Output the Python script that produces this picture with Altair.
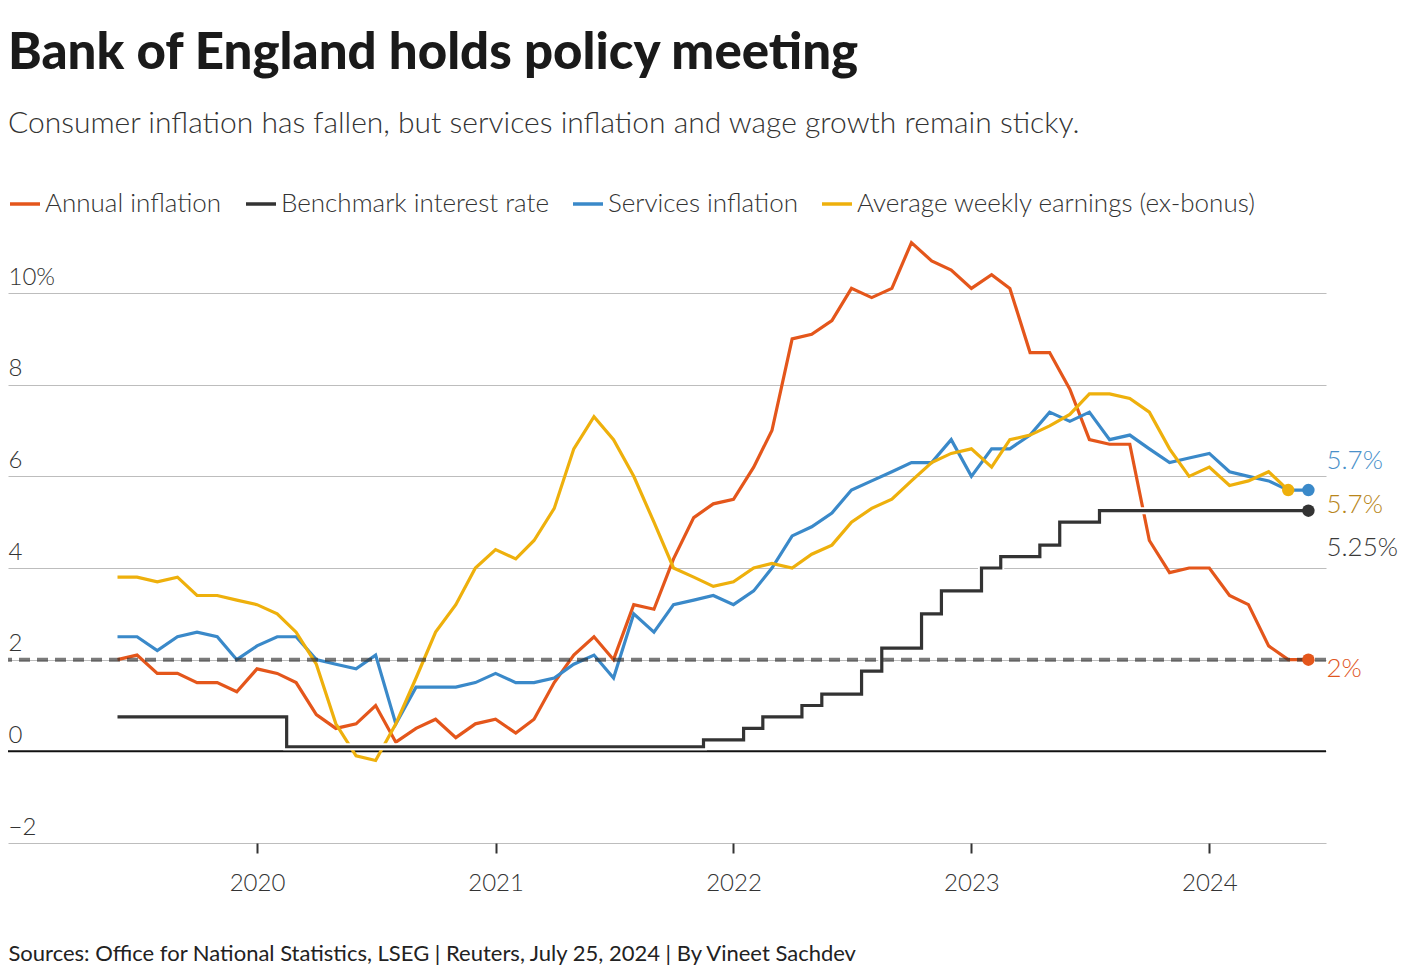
import altair as alt
import pandas as pd

FONT = "Lato"

# Monthly observations, June 2019 - June 2024
all_months = [f"{y}-{m:02d}-01" for y in range(2019, 2025) for m in range(1, 13)]
months = all_months[5:66]

annual_inflation = [2.0, 2.1, 1.7, 1.7, 1.5, 1.5, 1.3,
                    1.8, 1.7, 1.5, 0.8, 0.5, 0.6, 1.0, 0.2, 0.5, 0.7, 0.3, 0.6,
                    0.7, 0.4, 0.7, 1.5, 2.1, 2.5, 2.0, 3.2, 3.1, 4.2, 5.1, 5.4,
                    5.5, 6.2, 7.0, 9.0, 9.1, 9.4, 10.1, 9.9, 10.1, 11.1, 10.7, 10.5,
                    10.1, 10.4, 10.1, 8.7, 8.7, 7.9, 6.8, 6.7, 6.7, 4.6, 3.9, 4.0,
                    4.0, 3.4, 3.2, 2.3, 2.0, 2.0]

bank_rate = [0.75, 0.75, 0.75, 0.75, 0.75, 0.75, 0.75,
             0.75, 0.75, 0.1, 0.1, 0.1, 0.1, 0.1, 0.1, 0.1, 0.1, 0.1, 0.1,
             0.1, 0.1, 0.1, 0.1, 0.1, 0.1, 0.1, 0.1, 0.1, 0.1, 0.1, 0.25,
             0.25, 0.5, 0.75, 0.75, 1.0, 1.25, 1.25, 1.75, 2.25, 2.25, 3.0, 3.5,
             3.5, 4.0, 4.25, 4.25, 4.5, 5.0, 5.0, 5.25, 5.25, 5.25, 5.25, 5.25,
             5.25, 5.25, 5.25, 5.25, 5.25, 5.25]

services_inflation = [2.5, 2.5, 2.2, 2.5, 2.6, 2.5, 2.0,
                      2.3, 2.5, 2.5, 2.0, 1.9, 1.8, 2.1, 0.6, 1.4, 1.4, 1.4, 1.5,
                      1.7, 1.5, 1.5, 1.6, 1.9, 2.1, 1.6, 3.0, 2.6, 3.2, 3.3, 3.4,
                      3.2, 3.5, 4.0, 4.7, 4.9, 5.2, 5.7, 5.9, 6.1, 6.3, 6.3, 6.8,
                      6.0, 6.6, 6.6, 6.9, 7.4, 7.2, 7.4, 6.8, 6.9, 6.6, 6.3, 6.4,
                      6.5, 6.1, 6.0, 5.9, 5.7, 5.7]

# ends May 2024
weekly_earnings = [3.8, 3.8, 3.7, 3.8, 3.4, 3.4, 3.3,
                   3.2, 3.0, 2.6, 1.9, 0.6, -0.1, -0.2, 0.6, 1.6, 2.6, 3.2, 4.0,
                   4.4, 4.2, 4.6, 5.3, 6.6, 7.3, 6.8, 6.0, 5.0, 4.0, 3.8, 3.6,
                   3.7, 4.0, 4.1, 4.0, 4.3, 4.5, 5.0, 5.3, 5.5, 5.9, 6.3, 6.5,
                   6.6, 6.2, 6.8, 6.9, 7.1, 7.35, 7.8, 7.8, 7.7, 7.4, 6.6, 6.0,
                   6.2, 5.8, 5.9, 6.1, 5.7]

series_names = ["Annual inflation", "Benchmark interest rate",
                "Services inflation", "Average weekly earnings (ex-bonus)"]
series_colors = ["#e4561b", "#333333", "#3a89c9", "#eeb00c"]

end_labels = ["2%", "5.25%", "5.7%", "5.7%"]
end_label_colors = ["#e0561e", "#3a3a3a", "#4a90c9", "#b8861b"]
end_label_dy = [17, 45, -21, 23]

source_text = "Sources: Office for National Statistics, LSEG | Reuters, July 25, 2024 | By Vineet Sachdev"

rows = []
for name, vals in zip(series_names, [annual_inflation, bank_rate, services_inflation, weekly_earnings]):
    for d, v in zip(months, vals):
        rows.append({"date": d, "value": v, "series": name})
df = pd.DataFrame(rows)

last = df.groupby("series", as_index=False).tail(1).copy()
lab = last.copy()
lab["date"] = months[-1]
lab["label"] = lab["series"].map(dict(zip(series_names, end_labels)))

x_enc = alt.X(
    "date:T",
    title=source_text,
    scale=alt.Scale(type="utc", domain=[alt.DateTime(year=2018, month=12, date=15, utc=True),
                                        alt.DateTime(year=2024, month=6, date=28, utc=True)]),
    axis=alt.Axis(
        values=[alt.DateTime(year=y, month=1, date=1, utc=True) for y in range(2020, 2025)],
        format="%Y", grid=False, domain=False, ticks=True, tickSize=10, tickWidth=2,
        tickColor="#333333", labelFont=FONT, labelFontSize=24, labelFontWeight=300,
        labelColor="#333333", labelPadding=18, labelFlush=False,
        titleFont=FONT, titleFontSize=22, titleFontWeight="normal", titleColor="#222222",
        titleAnchor="start", titleAlign="left", titleX=0, titleY=117, titleBaseline="alphabetic",
    ),
)
y_enc = alt.Y(
    "value:Q",
    title=None,
    scale=alt.Scale(domain=[-2, 11.2], nice=False, zero=False),
    axis=alt.Axis(
        values=[-2, 0, 2, 4, 6, 8, 10],
        labelExpr="datum.value == 10 ? '10%' : datum.label",
        grid=True, gridColor="#bdbdbd", gridWidth=1, domain=False, ticks=False, tickSize=0,
        labelAlign="left", labelBaseline="alphabetic", labelOffset=-9, labelPadding=0,
        labelFont=FONT, labelFontSize=24, labelFontWeight=300, labelColor="#333333",
        labelOverlap=False, labelBound=False,
    ),
)
color_scale = alt.Scale(domain=series_names, range=series_colors)
color_enc = alt.Color(
    "series:N", scale=color_scale,
    legend=alt.Legend(
        orient="none", legendX=0, legendY=-51, direction="horizontal", columns=4,
        title=None, symbolType="stroke", symbolSize=900, symbolStrokeWidth=3.5,
        labelFont=FONT, labelFontSize=26, labelFontWeight=300, labelColor="#333333",
        labelOffset=3, columnPadding=17, padding=0, labelLimit=0,
    ),
)

base = alt.Chart(df)

zero_rule = alt.Chart(pd.DataFrame({"value": [0]})).mark_rule(color="#111111", strokeWidth=2).encode(y=y_enc)

lines = base.transform_filter(alt.datum.series != "Benchmark interest rate").mark_line(strokeWidth=3.2).encode(
    x=x_enc, y=y_enc, color=color_enc, order=alt.Order("date:T"))

halo = base.transform_filter(alt.datum.series == "Benchmark interest rate").mark_line(
    strokeWidth=7, interpolate="step", color="white").encode(x=x_enc, y=y_enc)

step = base.transform_filter(alt.datum.series == "Benchmark interest rate").mark_line(
    strokeWidth=3.2, interpolate="step").encode(x=x_enc, y=y_enc, color=color_enc)

target = alt.Chart(pd.DataFrame({"value": [2]})).mark_rule(
    color="#333333", strokeWidth=4, strokeDash=[11, 7], opacity=0.65).encode(y=y_enc)

points = alt.Chart(last).mark_circle(size=155, opacity=1).encode(
    x=x_enc, y=y_enc,
    fill=alt.Fill("series:N", scale=color_scale, legend=None))

texts = []
for name, col, dy in zip(series_names, end_label_colors, end_label_dy):
    texts.append(
        alt.Chart(lab).transform_filter(alt.datum.series == name).mark_text(
            align="left", baseline="alphabetic", dx=18, dy=dy, color=col,
            font=FONT, fontSize=26, fontWeight=300).encode(x=x_enc, y=y_enc, text="label:N")
    )

chart = alt.layer(zero_rule, lines, halo, step, target, points, *texts).properties(
    width=1318, height=605,
    padding={"left": 0, "top": 230, "right": 86, "bottom": 125},
    autosize=alt.AutoSizeParams(type="none"),
    background="white",
    title=alt.TitleParams(
        text="Bank of England holds policy meeting",
        subtitle="Consumer inflation has fallen, but services inflation and wage growth remain sticky.",
        anchor="start", frame="group", font=FONT, fontSize=51, fontWeight=900, color="#1a1a1a",
        subtitleFont=FONT, subtitleFontSize=30, subtitleFontWeight=300, subtitleColor="#333333",
        subtitlePadding=29, offset=47,
    ),
).configure_view(stroke=None)

chart.save("out.html", embed_options={"renderer": "svg", "actions": False})
